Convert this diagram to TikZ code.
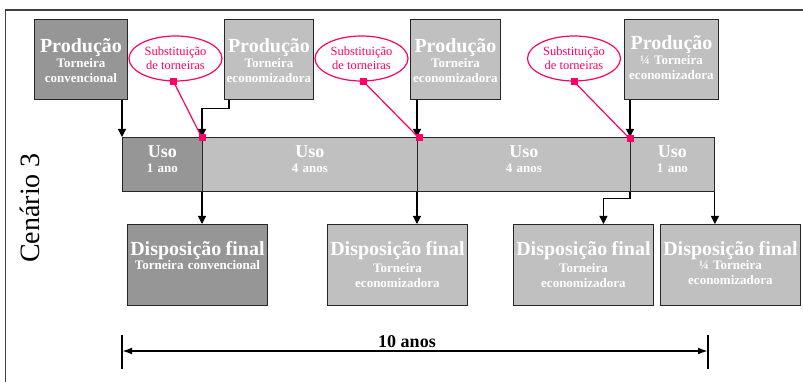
\documentclass[tikz,border=0pt]{standalone}
\usepackage{fontspec}
\setmainfont{Liberation Serif}
\usetikzlibrary{arrows.meta,shapes.geometric}
\definecolor{cinzaesc}{RGB}{150,150,150}
\definecolor{cinzacla}{RGB}{192,192,192}
\definecolor{rosa}{RGB}{255,0,102}
\tikzset{
  caixa/.style={draw=black!85, line width=0.9pt, text=white, align=center, inner sep=0pt,
    anchor=north west, font=\bfseries\fontsize{13}{15}\selectfont},
  prod/.style={caixa, text height=33pt, text depth=47pt},
  uso/.style={caixa, text height=20pt, text depth=34pt},
  disp/.style={caixa, text height=31pt, text depth=50pt, text width=140pt},
  subst/.style={ellipse, draw=rosa, line width=1.2pt, fill=white, text=rosa, align=center,
    inner sep=0pt, minimum width=93pt, minimum height=45pt, font=\fontsize{12.5}{14}\selectfont},
  marca/.style={rectangle, fill=rosa, inner sep=0pt, minimum size=7pt},
  liga/.style={draw=rosa, line width=1.2pt},
  seta/.style={draw=black, line width=1.1pt, -{Triangle[length=8pt,width=8pt]}},
  cota/.style={draw=black, line width=2pt, {Latex[length=10pt,width=7pt]}-{Latex[length=10pt,width=7pt]}}
}
\newcommand{\titulo}[1]{{\fontsize{20}{15}\selectfont #1}}
\newcommand{\usot}{{\fontsize{18}{15}\selectfont Uso}}
\begin{document}
\begin{tikzpicture}[x=1pt,y=-1pt]
\useasboundingbox (0,0) rectangle (803,382);
% moldura
\draw[black!75, line width=1.5pt] (5.5,385) -- (5.5,10) -- (806,10);
\node [rotate=90, font=\fontsize{28}{30}\selectfont] (cenario) at (30,208) {Cenário 3};
% producao
\node [prod, fill=cinzaesc, text width=93pt] (prod1) at (34,19) {\titulo{Produção}\\Torneira\\convencional};
\node [prod, fill=cinzacla, text width=89pt] (prod2) at (224,19) {\titulo{Produção}\\Torneira\\economizadora};
\node [prod, fill=cinzacla, text width=90pt] (prod3) at (410,19) {\titulo{Produção}\\Torneira\\economizadora};
\node [prod, fill=cinzacla, text width=94pt, text height=30pt, text depth=50pt] (prod4) at (624,19) {\titulo{Produção}\\¼ Torneira\\economizadora};
% substituicao
\node [subst] (sub1) at (175.5,58.5) {Substituição\\de torneiras};
\node [subst] (sub2) at (361.5,58.5) {Substituição\\de torneiras};
\node [subst] (sub3) at (574,58.5) {Substituição\\de torneiras};
% uso
\node [uso, fill=cinzaesc, text width=80pt] (uso1) at (122,137) {\usot\\1 ano};
\node [uso, fill=cinzacla, text width=215pt] (uso2) at (202,137) {\usot\\4 anos};
\node [uso, fill=cinzacla, text width=213pt] (uso3) at (417,137) {\usot\\4 anos};
\node [uso, fill=cinzacla, text width=84pt] (uso4) at (630,137) {\usot\\1 ano};
% disposicao final
\node [disp, fill=cinzaesc] (disp1) at (127,224) {\titulo{Disposição final}\\[-1pt]Torneira convencional};
\node [disp, fill=cinzacla] (disp2) at (327,224) {\titulo{Disposição final}\\[2pt]Torneira\\economizadora};
\node [disp, fill=cinzacla] (disp3) at (513,224) {\titulo{Disposição final}\\[2pt]Torneira\\economizadora};
\node [disp, fill=cinzacla] (disp4) at (660,224) {\titulo{Disposição final}\\[-1pt]¼ Torneira\\economizadora};
% setas
\draw [seta] (prod1.south -| uso1.north west) -- (uso1.north west);
\draw [seta] ([xshift=5pt]prod2.south west) -- ++(0,9) -| (uso2.north west);
\draw [seta] (prod3.south -| uso3.north west) -- (uso3.north west);
\draw [seta] (prod4.south -| uso4.north west) -- (uso4.north west);
\draw [seta] (uso2.south west) -- (uso2.south west |- disp1.north);
\draw [seta] (uso3.south west) -- (uso3.south west |- disp2.north);
\draw [seta] (uso4.south west) -- ++(0,7) -| ([xshift=20pt]disp3.north);
\draw [seta] (uso4.south east) -- (uso4.south east |- disp4.north);
% ligacoes
\draw [liga] ([xshift=-2pt]sub1.south) node[marca] {} -- ([yshift=-1pt]uso2.north west) node[marca] {};
\draw [liga] ([xshift=2pt]sub2.south) node[marca] {} -- ([xshift=2pt,yshift=-1pt]uso3.north west) node[marca] {};
\draw [liga] (sub3.south) node[marca] {} -- ([yshift=-2pt]uso4.north west) node[marca] {};
% escala
\coordinate (ini) at (122,351);
\coordinate (fim) at (708,351);
\draw [cota] (ini) -- (fim);
\draw [line width=2pt] ([yshift=-18pt]ini) -- ([yshift=16pt]ini);
\draw [line width=2pt] ([yshift=-18pt]fim) -- ([yshift=16pt]fim);
\node [font=\bfseries\fontsize{18}{20}\selectfont, anchor=base] (tempo) at (407,347) {10 anos};
\end{tikzpicture}
\end{document}
